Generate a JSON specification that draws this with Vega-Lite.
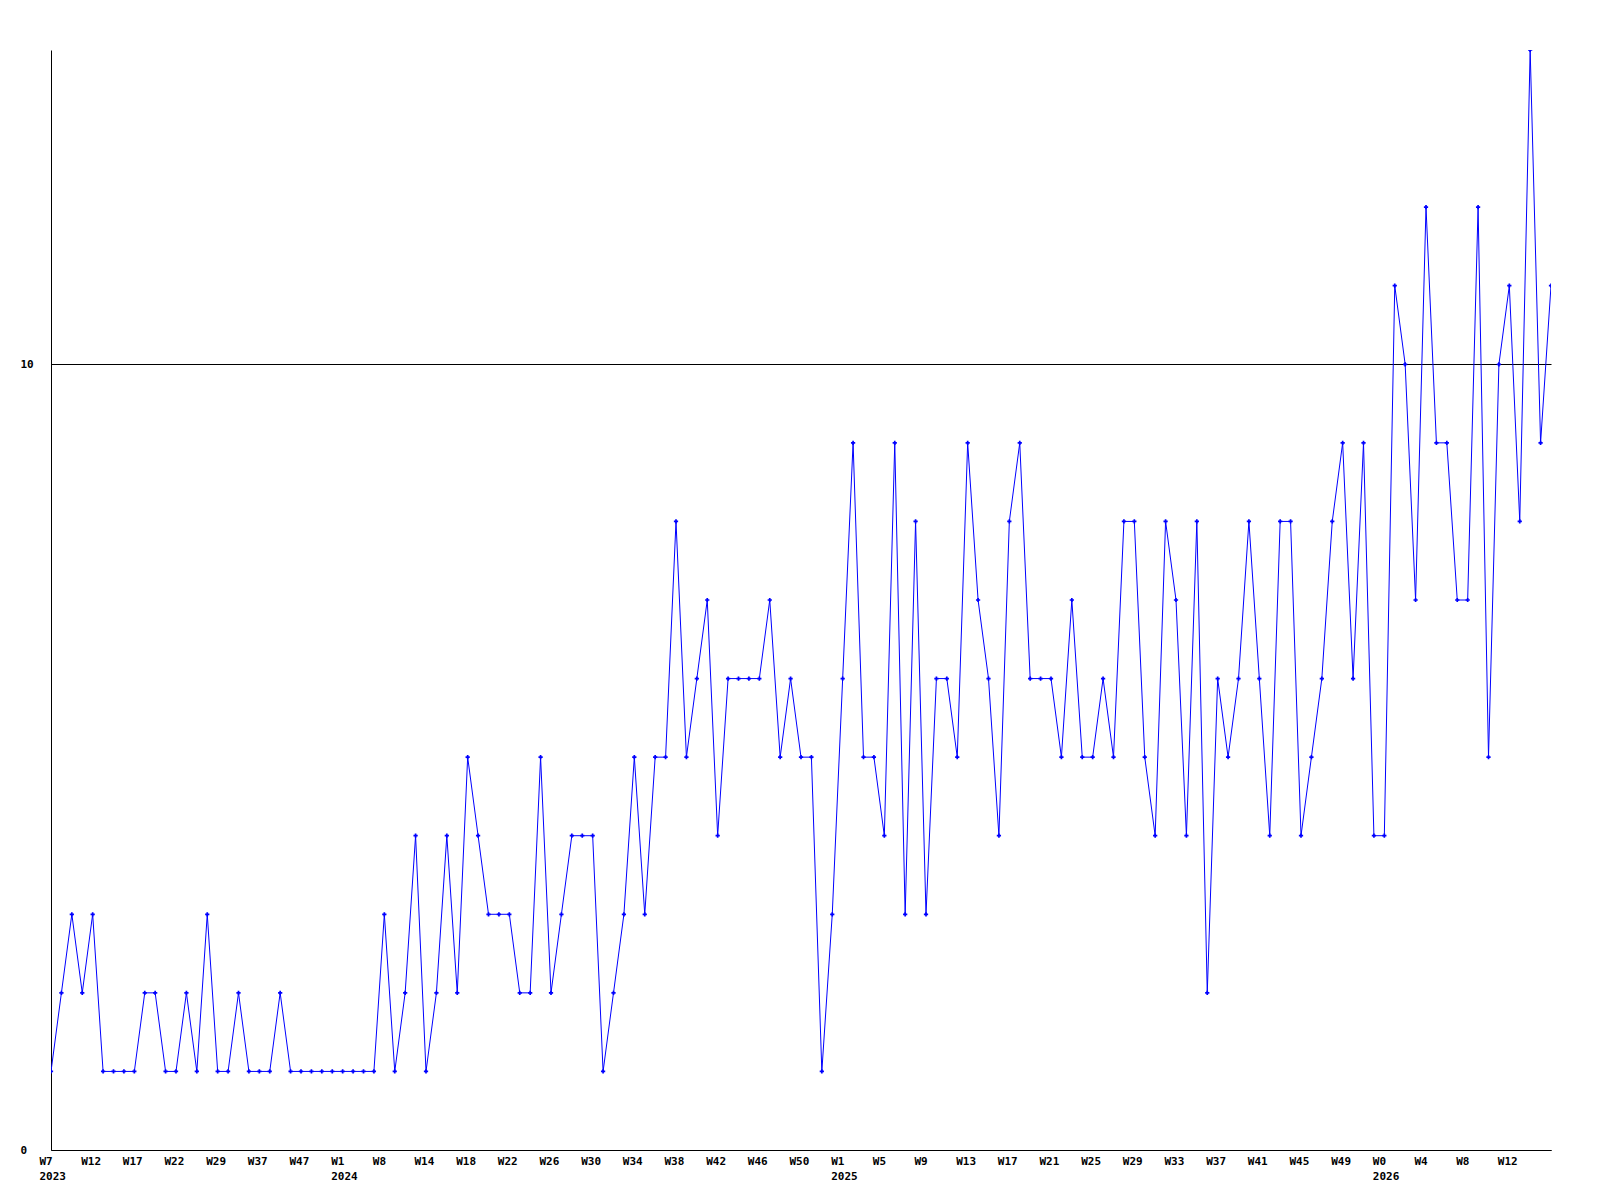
{
  "$schema": "https://vega.github.io/schema/vega-lite/v6.json",
  "width": 1500,
  "height": 1100,
  "autosize": "none",
  "padding": {"left": 51, "top": 50, "right": 49, "bottom": 50},
  "background": "white",
  "config": {
    "view": {"stroke": null},
    "axis": {"labelFont": "DejaVu Sans Mono", "labelFontWeight": "bold", "labelFontSize": 11, "labelColor": "black", "title": null}
  },
  "data": {"values": [
    {"i":0,"v":1},{"i":1,"v":2},{"i":2,"v":3},{"i":3,"v":2},{"i":4,"v":3},{"i":5,"v":1},{"i":6,"v":1},{"i":7,"v":1},{"i":8,"v":1},{"i":9,"v":2},
    {"i":10,"v":2},{"i":11,"v":1},{"i":12,"v":1},{"i":13,"v":2},{"i":14,"v":1},{"i":15,"v":3},{"i":16,"v":1},{"i":17,"v":1},{"i":18,"v":2},{"i":19,"v":1},
    {"i":20,"v":1},{"i":21,"v":1},{"i":22,"v":2},{"i":23,"v":1},{"i":24,"v":1},{"i":25,"v":1},{"i":26,"v":1},{"i":27,"v":1},{"i":28,"v":1},{"i":29,"v":1},
    {"i":30,"v":1},{"i":31,"v":1},{"i":32,"v":3},{"i":33,"v":1},{"i":34,"v":2},{"i":35,"v":4},{"i":36,"v":1},{"i":37,"v":2},{"i":38,"v":4},{"i":39,"v":2},
    {"i":40,"v":5},{"i":41,"v":4},{"i":42,"v":3},{"i":43,"v":3},{"i":44,"v":3},{"i":45,"v":2},{"i":46,"v":2},{"i":47,"v":5},{"i":48,"v":2},{"i":49,"v":3},
    {"i":50,"v":4},{"i":51,"v":4},{"i":52,"v":4},{"i":53,"v":1},{"i":54,"v":2},{"i":55,"v":3},{"i":56,"v":5},{"i":57,"v":3},{"i":58,"v":5},{"i":59,"v":5},
    {"i":60,"v":8},{"i":61,"v":5},{"i":62,"v":6},{"i":63,"v":7},{"i":64,"v":4},{"i":65,"v":6},{"i":66,"v":6},{"i":67,"v":6},{"i":68,"v":6},{"i":69,"v":7},
    {"i":70,"v":5},{"i":71,"v":6},{"i":72,"v":5},{"i":73,"v":5},{"i":74,"v":1},{"i":75,"v":3},{"i":76,"v":6},{"i":77,"v":9},{"i":78,"v":5},{"i":79,"v":5},
    {"i":80,"v":4},{"i":81,"v":9},{"i":82,"v":3},{"i":83,"v":8},{"i":84,"v":3},{"i":85,"v":6},{"i":86,"v":6},{"i":87,"v":5},{"i":88,"v":9},{"i":89,"v":7},
    {"i":90,"v":6},{"i":91,"v":4},{"i":92,"v":8},{"i":93,"v":9},{"i":94,"v":6},{"i":95,"v":6},{"i":96,"v":6},{"i":97,"v":5},{"i":98,"v":7},{"i":99,"v":5},
    {"i":100,"v":5},{"i":101,"v":6},{"i":102,"v":5},{"i":103,"v":8},{"i":104,"v":8},{"i":105,"v":5},{"i":106,"v":4},{"i":107,"v":8},{"i":108,"v":7},{"i":109,"v":4},
    {"i":110,"v":8},{"i":111,"v":2},{"i":112,"v":6},{"i":113,"v":5},{"i":114,"v":6},{"i":115,"v":8},{"i":116,"v":6},{"i":117,"v":4},{"i":118,"v":8},{"i":119,"v":8},
    {"i":120,"v":4},{"i":121,"v":5},{"i":122,"v":6},{"i":123,"v":8},{"i":124,"v":9},{"i":125,"v":6},{"i":126,"v":9},{"i":127,"v":4},{"i":128,"v":4},{"i":129,"v":11},
    {"i":130,"v":10},{"i":131,"v":7},{"i":132,"v":12},{"i":133,"v":9},{"i":134,"v":9},{"i":135,"v":7},{"i":136,"v":7},{"i":137,"v":12},{"i":138,"v":5},{"i":139,"v":10},
    {"i":140,"v":11},{"i":141,"v":8},{"i":142,"v":14},{"i":143,"v":9},{"i":144,"v":11}
  ]},
  "encoding": {
    "x": {
      "field": "i", "type": "quantitative",
      "scale": {"domain": [0, 144], "nice": false, "zero": false},
      "axis": {
        "values": [0,4,8,12,16,20,24,28,32,36,40,44,48,52,56,60,64,68,72,76,80,84,88,92,96,100,104,108,112,116,120,124,128,132,136,140],
        "labelExpr": "[['W7','2023'],'W12','W17','W22','W29','W37','W47',['W1','2024'],'W8','W14','W18','W22','W26','W30','W34','W38','W42','W46','W50',['W1','2025'],'W5','W9','W13','W17','W21','W25','W29','W33','W37','W41','W45','W49',['W0','2026'],'W4','W8','W12'][round(datum.value/4)]",
        "grid": false, "ticks": false, "domain": true, "domainColor": "black", "domainWidth": 1,
        "labelAlign": "left", "labelOffset": -12, "labelPadding": 5, "labelBaseline": "top", "labelLineHeight": 15,
        "labelOverlap": false, "labelFlush": false, "labelBound": false
      }
    },
    "y": {
      "field": "v", "type": "quantitative",
      "scale": {"domain": [0, 14], "nice": false},
      "axis": {
        "values": [0, 10], "grid": true, "gridColor": "black", "gridOpacity": 1, "gridWidth": 1,
        "ticks": false, "domain": true, "domainColor": "black", "domainWidth": 1,
        "labelAlign": "left", "labelPadding": 31, "labelBaseline": "middle"
      }
    }
  },
  "layer": [
    {"mark": {"type": "line", "color": "#0000ff", "strokeWidth": 1, "clip": true}},
    {"mark": {"type": "point", "shape": "cross", "filled": true, "color": "#0000ff", "size": 18, "opacity": 1, "clip": true}}
  ]
}
